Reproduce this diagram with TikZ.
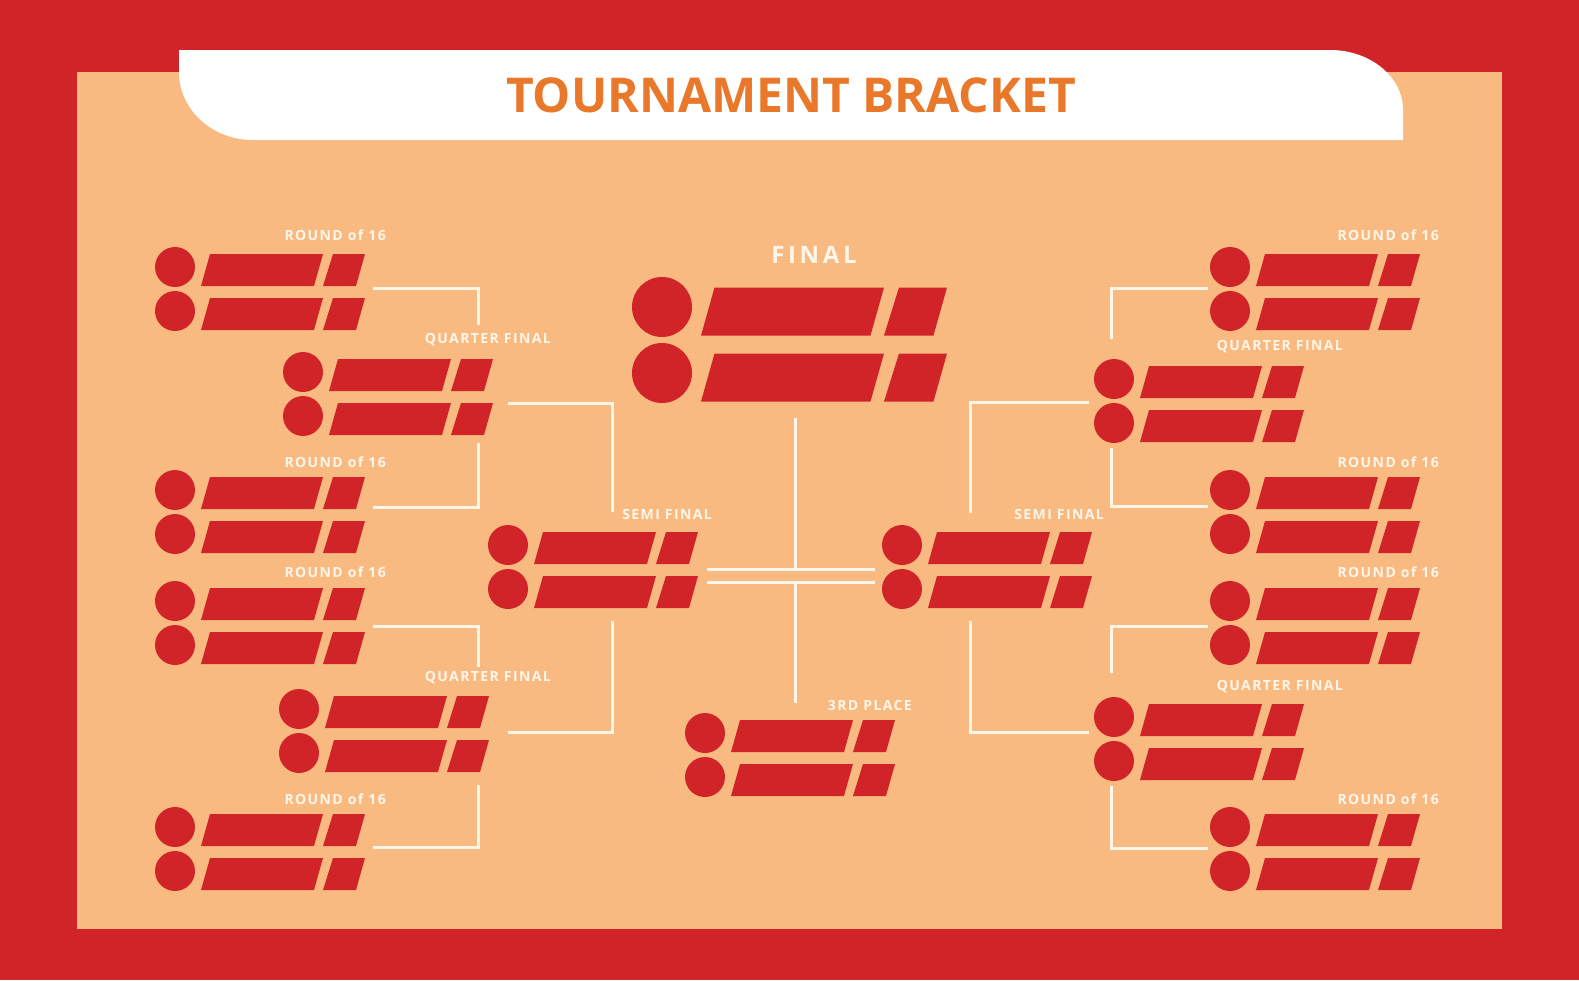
\documentclass[tikz,border=0pt]{standalone}
\usepackage{fontspec}
\setmainfont{Open Sans}
\newfontfamily\labelfont[LetterSpace=10]{Open Sans}
\newfontfamily\finalfont[LetterSpace=15]{Open Sans}
\usetikzlibrary{positioning}

\definecolor{framered}{HTML}{D12428}
\definecolor{peach}{HTML}{F9BA82}
\definecolor{titleorange}{HTML}{E9782A}
\definecolor{lineclr}{HTML}{FFF6EA}

\begin{document}
\begin{tikzpicture}[x=1pt, y=-1pt,
    stage/.style={font=\labelfont\bfseries\fontsize{14}{14}\selectfont, text=lineclr, inner sep=0pt, anchor=east},
    bracket/.style={draw=lineclr, line width=3pt}]

% ==== Background ====
\useasboundingbox (0,0) rectangle (1579,980);
\fill[framered] (0,0) rectangle (1579,980);
\fill[peach] (77,72) rectangle (1502,929);

% Title banner
\fill[white] (179,50) -- (1330,50) arc[start angle=-90, end angle=0, x radius=73, y radius=60]
    -- (1403,140) -- (253,140) arc[start angle=90, end angle=180, x radius=74, y radius=68] -- cycle;
\node[font=\bfseries\fontsize{48}{48}\selectfont, text=titleorange] (title) at (791,95) {TOURNAMENT BRACKET};

% ==== Match blocks ====
\foreach \name/\x/\y/\s in {LA/175/267/1, LB/175/490/1, LC/175/601/1, LD/175/827/1,
    LQA/303/372/1, LQB/299/709/1, LS/508/545/1, F/662/307/1.5, TP/705/733/1,
    RS/902/545/1, RQA/1114/379/1, RQB/1114/717/1,
    RA/1230/267/1, RB/1230/490/1, RC/1230/601/1, RD/1230/827/1} {
  \coordinate (\name) at (\x,\y);
  \begin{scope}[shift={(\x,\y)}, scale=\s]
    \foreach \r in {0,44} {
      \fill[framered] (0,\r) circle (20);
      \fill[framered] (26,\r+19) -- (35,\r-13) -- (148,\r-13) -- (139,\r+19) -- cycle;
      \fill[framered] (148,\r+19) -- (158,\r-13) -- (190,\r-13) -- (181,\r+19) -- cycle;
    }
  \end{scope}
}

% ==== Labels ====
\foreach \name/\y in {a/235, b/462, c/572, d/799} {
  \node[stage] (l16\name) at (386,\y) {ROUND of 16};
  \node[stage] (r16\name) at (1439,\y) {ROUND of 16};
}
\node[stage] (lqfa) at (551,340) {QUARTER FINAL};
\node[stage] (lqfb) at (551,678) {QUARTER FINAL};
\node[stage] (rqfa) at (1343,347) {QUARTER FINAL};
\node[stage] (rqfb) at (1343,687) {QUARTER FINAL};
\node[stage] (lsf) at (712,514) {SEMI FINAL};
\node[stage] (rsf) at (1104,514) {SEMI FINAL};
\node[stage] (third) at (912,705) {3RD PLACE};
\node[stage, anchor=center, font=\finalfont\bfseries\fontsize{24}{24}\selectfont] (final) at (814,255) {FINAL};

% ==== Left brackets ====
\draw[bracket] (373,288) -- (478,288) -- (478,325);
\draw[bracket] (478,443) -- (478,507) -- (373,507);
\draw[bracket] (508,403) -- (612,403) -- (612,512);
\draw[bracket] (373,626) -- (478,626) -- (478,667);
\draw[bracket] (478,785) -- (478,847) -- (373,847);
\draw[bracket] (508,732) -- (612,732) -- (612,621);

% ==== Centre ====
\draw[bracket] (795,418) -- (795,569);
\draw[bracket] (707,569) -- (875,569);
\draw[bracket] (707,582) -- (875,582);
\draw[bracket] (795,582) -- (795,703);

% ==== Right brackets ====
\draw[bracket] (1208,288) -- (1111,288) -- (1111,339);
\draw[bracket] (1111,448) -- (1111,506) -- (1208,506);
\draw[bracket] (1089,402) -- (970,402) -- (970,513);
\draw[bracket] (1208,626) -- (1111,626) -- (1111,673);
\draw[bracket] (1111,786) -- (1111,848) -- (1208,848);
\draw[bracket] (1089,732) -- (970,732) -- (970,621);

\end{tikzpicture}
\end{document}
